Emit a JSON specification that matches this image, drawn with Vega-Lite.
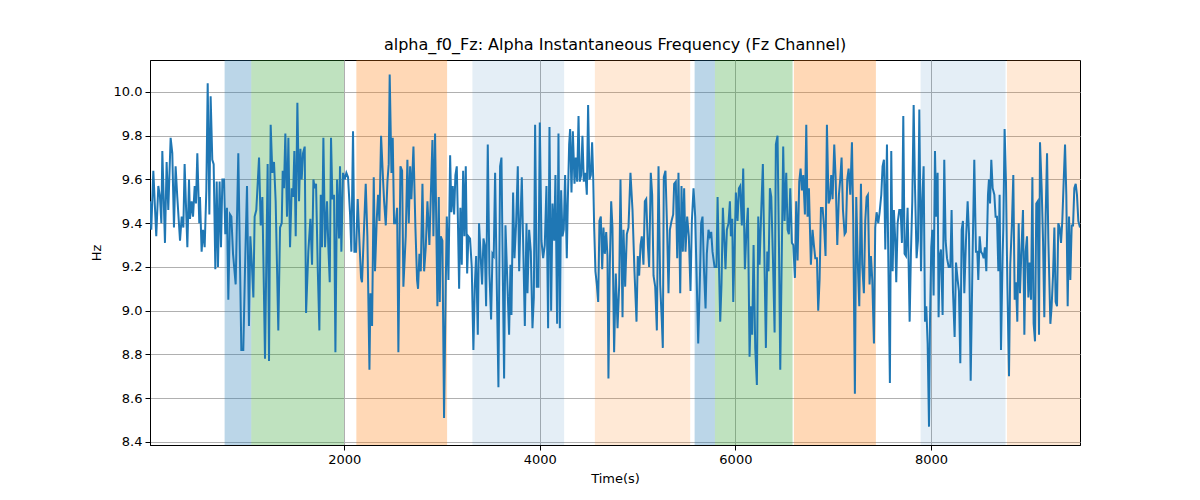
{
  "$schema": "https://vega.github.io/schema/vega-lite/v6.json",
  "description": "Alpha instantaneous frequency of the Fz channel over time, with shaded segments.",
  "width": 930,
  "height": 385,
  "autosize": {"type": "none"},
  "padding": {"left": 150, "top": 60, "right": 120, "bottom": 55},
  "title": {
    "text": "alpha_f0_Fz: Alpha Instantaneous Frequency (Fz Channel)",
    "fontSize": 16,
    "fontWeight": "normal",
    "font": "DejaVu Sans",
    "color": "black",
    "anchor": "middle",
    "offset": 7
  },
  "datasets": {
    "bands": [
      {"start": 777, "end": 1050, "kind": "a"},
      {"start": 1050, "end": 1998, "kind": "b"},
      {"start": 2124, "end": 3052, "kind": "c"},
      {"start": 3311, "end": 4249, "kind": "d"},
      {"start": 4563, "end": 5538, "kind": "e"},
      {"start": 5583, "end": 5791, "kind": "a"},
      {"start": 5791, "end": 6585, "kind": "b"},
      {"start": 6598, "end": 7437, "kind": "c"},
      {"start": 7894, "end": 8763, "kind": "d"},
      {"start": 8777, "end": 9524, "kind": "e"}
    ],
    "series": [
      {"t":14,"hz":9.50},{"t":27,"hz":9.37},{"t":48,"hz":9.64},{"t":78,"hz":9.34},{"t":99,"hz":9.57},{"t":116,"hz":9.52},{"t":130,"hz":9.40},{"t":140,"hz":9.73},{"t":167,"hz":9.31},{"t":184,"hz":9.68},{"t":201,"hz":9.46},{"t":225,"hz":9.79},{"t":242,"hz":9.72},{"t":259,"hz":9.38},{"t":276,"hz":9.66},{"t":293,"hz":9.52},{"t":321,"hz":9.32},{"t":338,"hz":9.43},{"t":355,"hz":9.38},{"t":368,"hz":9.67},{"t":396,"hz":9.29},{"t":413,"hz":9.60},{"t":423,"hz":9.42},{"t":440,"hz":9.50},{"t":454,"hz":9.43},{"t":471,"hz":9.57},{"t":484,"hz":9.49},{"t":498,"hz":9.72},{"t":518,"hz":9.40},{"t":525,"hz":9.52},{"t":542,"hz":9.27},{"t":556,"hz":9.37},{"t":573,"hz":9.29},{"t":590,"hz":9.55},{"t":604,"hz":10.04},{"t":621,"hz":9.44},{"t":634,"hz":9.98},{"t":651,"hz":9.69},{"t":665,"hz":9.67},{"t":682,"hz":9.19},{"t":696,"hz":9.59},{"t":709,"hz":9.20},{"t":726,"hz":9.59},{"t":740,"hz":9.29},{"t":754,"hz":9.60},{"t":771,"hz":9.60},{"t":784,"hz":9.35},{"t":801,"hz":9.47},{"t":815,"hz":9.05},{"t":832,"hz":9.44},{"t":846,"hz":9.43},{"t":863,"hz":9.26},{"t":890,"hz":9.12},{"t":917,"hz":9.72},{"t":948,"hz":8.82},
      {"t":968,"hz":8.82},{"t":986,"hz":9.20},{"t":1006,"hz":9.57},{"t":1026,"hz":8.93},{"t":1040,"hz":9.34},{"t":1057,"hz":9.20},{"t":1071,"hz":9.06},{"t":1084,"hz":9.43},{"t":1101,"hz":9.46},{"t":1129,"hz":9.70},{"t":1146,"hz":9.39},{"t":1163,"hz":9.52},{"t":1190,"hz":8.78},{"t":1217,"hz":9.67},{"t":1231,"hz":8.77},{"t":1248,"hz":9.85},{"t":1265,"hz":9.63},{"t":1282,"hz":9.68},{"t":1299,"hz":9.50},{"t":1326,"hz":8.91},{"t":1344,"hz":9.38},{"t":1361,"hz":9.40},{"t":1371,"hz":9.64},{"t":1384,"hz":9.56},{"t":1398,"hz":9.81},{"t":1415,"hz":9.43},{"t":1429,"hz":9.79},{"t":1446,"hz":9.29},{"t":1463,"hz":9.56},{"t":1477,"hz":9.52},{"t":1490,"hz":9.73},{"t":1504,"hz":9.34},{"t":1521,"hz":9.95},{"t":1538,"hz":9.50},{"t":1552,"hz":9.74},{"t":1565,"hz":9.60},{"t":1579,"hz":9.72},{"t":1596,"hz":9.75},{"t":1610,"hz":8.99},{"t":1633,"hz":9.27},{"t":1654,"hz":9.42},{"t":1671,"hz":9.21},{"t":1685,"hz":9.60},{"t":1698,"hz":9.56},{"t":1712,"hz":9.58},{"t":1729,"hz":9.20},{"t":1746,"hz":8.91},{"t":1760,"hz":9.53},{"t":1773,"hz":9.29},{"t":1787,"hz":9.79},{"t":1804,"hz":9.29},{"t":1824,"hz":9.50},{"t":1838,"hz":9.29},{"t":1852,"hz":9.13},{"t":1865,"hz":9.79},{"t":1879,"hz":9.51},{"t":1896,"hz":9.53},{"t":1910,"hz":8.81},{"t":1927,"hz":9.60},
      {"t":1940,"hz":9.43},{"t":1947,"hz":9.33},{"t":1957,"hz":9.66},{"t":1971,"hz":9.27},{"t":1988,"hz":9.63},{"t":2005,"hz":9.60},{"t":2022,"hz":9.63},{"t":2039,"hz":9.61},{"t":2060,"hz":9.44},{"t":2073,"hz":9.27},{"t":2090,"hz":9.82},{"t":2104,"hz":9.27},{"t":2121,"hz":9.27},{"t":2138,"hz":9.51},{"t":2159,"hz":9.28},{"t":2172,"hz":9.15},{"t":2182,"hz":9.13},{"t":2203,"hz":9.38},{"t":2220,"hz":9.58},{"t":2237,"hz":9.34},{"t":2258,"hz":8.73},{"t":2268,"hz":9.08},{"t":2285,"hz":8.93},{"t":2302,"hz":9.61},{"t":2315,"hz":9.18},{"t":2333,"hz":9.42},{"t":2346,"hz":9.53},{"t":2360,"hz":9.41},{"t":2377,"hz":9.80},{"t":2397,"hz":9.60},{"t":2408,"hz":9.50},{"t":2425,"hz":9.39},{"t":2442,"hz":9.59},{"t":2455,"hz":9.67},{"t":2465,"hz":10.08},{"t":2483,"hz":9.63},{"t":2496,"hz":9.79},{"t":2510,"hz":9.40},{"t":2527,"hz":9.40},{"t":2541,"hz":9.47},{"t":2554,"hz":8.81},{"t":2575,"hz":9.66},{"t":2592,"hz":9.64},{"t":2605,"hz":9.11},{"t":2629,"hz":9.34},{"t":2646,"hz":9.69},{"t":2660,"hz":9.40},{"t":2674,"hz":9.66},{"t":2687,"hz":9.51},{"t":2708,"hz":9.75},{"t":2728,"hz":9.38},{"t":2745,"hz":9.14},{"t":2755,"hz":9.10},{"t":2769,"hz":9.26},{"t":2783,"hz":9.18},{"t":2800,"hz":9.58},{"t":2817,"hz":9.18},{"t":2834,"hz":9.29},{"t":2851,"hz":9.50},{"t":2871,"hz":9.30},{"t":2902,"hz":9.78},
      {"t":2912,"hz":9.34},{"t":2929,"hz":9.81},{"t":2943,"hz":9.34},{"t":2953,"hz":9.02},{"t":2967,"hz":9.52},{"t":2977,"hz":9.04},{"t":2987,"hz":9.34},{"t":3004,"hz":9.32},{"t":3021,"hz":8.51},{"t":3038,"hz":9.11},{"t":3049,"hz":9.43},{"t":3066,"hz":9.14},{"t":3083,"hz":9.71},{"t":3096,"hz":9.45},{"t":3110,"hz":9.57},{"t":3124,"hz":9.44},{"t":3137,"hz":9.62},{"t":3151,"hz":9.66},{"t":3161,"hz":9.45},{"t":3175,"hz":9.10},{"t":3188,"hz":9.47},{"t":3202,"hz":9.21},{"t":3216,"hz":9.64},{"t":3229,"hz":9.34},{"t":3243,"hz":9.66},{"t":3257,"hz":9.17},{"t":3270,"hz":9.34},{"t":3287,"hz":9.33},{"t":3304,"hz":9.20},{"t":3321,"hz":8.82},{"t":3335,"hz":9.11},{"t":3349,"hz":9.25},{"t":3366,"hz":8.89},{"t":3379,"hz":9.40},{"t":3396,"hz":9.24},{"t":3410,"hz":9.12},{"t":3424,"hz":9.33},{"t":3437,"hz":9.30},{"t":3451,"hz":9.02},{"t":3468,"hz":9.76},{"t":3485,"hz":9.17},{"t":3502,"hz":8.96},{"t":3516,"hz":9.26},{"t":3529,"hz":9.25},{"t":3543,"hz":9.63},{"t":3560,"hz":9.12},{"t":3577,"hz":8.65},{"t":3594,"hz":9.66},{"t":3608,"hz":9.70},{"t":3621,"hz":9.20},{"t":3635,"hz":8.69},{"t":3649,"hz":9.39},{"t":3669,"hz":9.12},{"t":3686,"hz":8.89},{"t":3700,"hz":9.21},{"t":3710,"hz":8.98},{"t":3727,"hz":9.54},{"t":3741,"hz":9.24},{"t":3758,"hz":9.40},{"t":3775,"hz":9.66},{"t":3789,"hz":9.18},{"t":3802,"hz":9.41},{"t":3816,"hz":9.61},{"t":3833,"hz":9.24},{"t":3847,"hz":8.93},{"t":3864,"hz":9.40},
      {"t":3874,"hz":9.08},{"t":3891,"hz":9.37},{"t":3908,"hz":9.27},{"t":3925,"hz":8.92},{"t":3939,"hz":9.06},{"t":3952,"hz":9.85},{"t":3969,"hz":9.11},{"t":3986,"hz":9.11},{"t":4000,"hz":9.86},{"t":4017,"hz":9.32},{"t":4034,"hz":9.24},{"t":4051,"hz":9.30},{"t":4068,"hz":9.57},{"t":4085,"hz":8.92},{"t":4099,"hz":9.84},{"t":4116,"hz":9.00},{"t":4130,"hz":9.49},{"t":4147,"hz":9.32},{"t":4160,"hz":9.62},{"t":4177,"hz":8.94},{"t":4191,"hz":9.81},{"t":4205,"hz":8.92},{"t":4218,"hz":9.55},{"t":4232,"hz":9.34},{"t":4245,"hz":9.37},{"t":4259,"hz":9.62},{"t":4276,"hz":9.24},{"t":4286,"hz":9.49},{"t":4300,"hz":9.76},{"t":4310,"hz":9.83},{"t":4324,"hz":9.54},{"t":4338,"hz":9.82},{"t":4355,"hz":9.58},{"t":4368,"hz":9.70},{"t":4382,"hz":9.59},{"t":4396,"hz":9.89},{"t":4409,"hz":9.59},{"t":4423,"hz":9.62},{"t":4436,"hz":9.80},{"t":4450,"hz":9.59},{"t":4467,"hz":9.63},{"t":4481,"hz":9.53},{"t":4494,"hz":9.94},{"t":4508,"hz":9.60},{"t":4522,"hz":9.62},{"t":4535,"hz":9.77},{"t":4546,"hz":9.61},{"t":4556,"hz":9.38},{"t":4569,"hz":9.18},{"t":4583,"hz":9.12},{"t":4597,"hz":9.04},{"t":4610,"hz":9.41},{"t":4624,"hz":9.43},{"t":4638,"hz":9.19},{"t":4651,"hz":9.38},{"t":4665,"hz":9.26},{"t":4679,"hz":9.36},{"t":4692,"hz":9.25},{"t":4702,"hz":8.69},{"t":4716,"hz":9.21},{"t":4730,"hz":9.50},{"t":4743,"hz":9.38},{"t":4760,"hz":8.81},{"t":4777,"hz":9.17},{"t":4795,"hz":8.92},{"t":4812,"hz":9.12},{"t":4825,"hz":9.60},{"t":4846,"hz":8.97},
      {"t":4856,"hz":9.37},{"t":4873,"hz":9.11},{"t":4890,"hz":9.35},{"t":4907,"hz":9.38},{"t":4927,"hz":9.63},{"t":4948,"hz":9.46},{"t":4968,"hz":9.18},{"t":4989,"hz":8.95},{"t":5002,"hz":9.25},{"t":5016,"hz":9.16},{"t":5030,"hz":9.30},{"t":5043,"hz":9.34},{"t":5060,"hz":9.21},{"t":5074,"hz":9.50},{"t":5088,"hz":9.51},{"t":5105,"hz":9.30},{"t":5118,"hz":9.20},{"t":5135,"hz":9.63},{"t":5149,"hz":9.53},{"t":5163,"hz":9.16},{"t":5180,"hz":9.11},{"t":5197,"hz":8.91},{"t":5214,"hz":9.66},{"t":5231,"hz":9.12},{"t":5248,"hz":8.95},{"t":5258,"hz":8.83},{"t":5268,"hz":9.61},{"t":5285,"hz":9.64},{"t":5302,"hz":9.37},{"t":5316,"hz":9.08},{"t":5330,"hz":9.37},{"t":5347,"hz":9.41},{"t":5364,"hz":9.44},{"t":5374,"hz":9.58},{"t":5391,"hz":9.59},{"t":5405,"hz":9.24},{"t":5418,"hz":9.63},{"t":5436,"hz":9.08},{"t":5449,"hz":9.57},{"t":5463,"hz":9.27},{"t":5476,"hz":9.56},{"t":5490,"hz":9.27},{"t":5507,"hz":9.43},{"t":5524,"hz":9.34},{"t":5541,"hz":9.09},{"t":5555,"hz":9.41},{"t":5572,"hz":9.56},{"t":5589,"hz":9.43},{"t":5603,"hz":9.17},{"t":5620,"hz":8.85},{"t":5637,"hz":9.14},{"t":5650,"hz":9.40},{"t":5664,"hz":9.43},{"t":5678,"hz":9.20},{"t":5695,"hz":9.01},{"t":5708,"hz":9.26},{"t":5725,"hz":9.37},{"t":5739,"hz":9.34},{"t":5753,"hz":9.36},{"t":5766,"hz":9.27},{"t":5787,"hz":9.20},{"t":5807,"hz":9.20},
      {"t":5818,"hz":9.52},{"t":5831,"hz":9.23},{"t":5845,"hz":8.95},{"t":5858,"hz":9.12},{"t":5872,"hz":9.47},{"t":5886,"hz":9.33},{"t":5899,"hz":9.19},{"t":5913,"hz":9.37},{"t":5930,"hz":9.40},{"t":5944,"hz":9.50},{"t":5954,"hz":9.34},{"t":5968,"hz":9.42},{"t":5978,"hz":9.04},{"t":5991,"hz":9.27},{"t":6005,"hz":9.54},{"t":6022,"hz":9.41},{"t":6036,"hz":9.56},{"t":6049,"hz":9.57},{"t":6066,"hz":9.39},{"t":6080,"hz":9.65},{"t":6097,"hz":9.19},{"t":6114,"hz":9.37},{"t":6128,"hz":9.47},{"t":6145,"hz":8.79},{"t":6159,"hz":9.02},{"t":6172,"hz":8.89},{"t":6186,"hz":9.30},{"t":6203,"hz":8.83},{"t":6220,"hz":8.66},{"t":6234,"hz":9.43},{"t":6247,"hz":9.21},{"t":6264,"hz":9.45},{"t":6281,"hz":9.67},{"t":6295,"hz":9.29},{"t":6312,"hz":8.83},{"t":6326,"hz":9.27},{"t":6339,"hz":9.18},{"t":6353,"hz":9.56},{"t":6367,"hz":9.52},{"t":6384,"hz":9.24},{"t":6401,"hz":8.90},{"t":6414,"hz":9.76},{"t":6431,"hz":9.80},{"t":6445,"hz":9.32},{"t":6459,"hz":8.73},{"t":6472,"hz":9.17},{"t":6489,"hz":9.75},{"t":6503,"hz":9.41},{"t":6520,"hz":9.63},{"t":6534,"hz":9.37},{"t":6547,"hz":9.35},{"t":6561,"hz":9.56},{"t":6578,"hz":9.31},{"t":6592,"hz":9.30},{"t":6609,"hz":9.15},{"t":6622,"hz":9.50},{"t":6636,"hz":9.23},{"t":6653,"hz":9.59},{"t":6667,"hz":9.65},{"t":6680,"hz":9.55},{"t":6694,"hz":9.62},{"t":6711,"hz":9.44},{"t":6725,"hz":9.85},{"t":6738,"hz":9.43},{"t":6752,"hz":9.56},{"t":6772,"hz":9.21},{"t":6789,"hz":9.37},
      {"t":6803,"hz":9.30},{"t":6817,"hz":9.24},{"t":6834,"hz":9.24},{"t":6847,"hz":9.00},{"t":6861,"hz":9.14},{"t":6875,"hz":9.47},{"t":6892,"hz":9.47},{"t":6909,"hz":9.37},{"t":6922,"hz":9.25},{"t":6936,"hz":9.85},{"t":6953,"hz":9.49},{"t":6967,"hz":9.51},{"t":6980,"hz":9.62},{"t":6994,"hz":9.51},{"t":7011,"hz":9.76},{"t":7025,"hz":9.61},{"t":7042,"hz":9.30},{"t":7059,"hz":9.53},{"t":7072,"hz":9.60},{"t":7086,"hz":9.70},{"t":7100,"hz":9.46},{"t":7117,"hz":9.35},{"t":7130,"hz":9.36},{"t":7144,"hz":9.60},{"t":7158,"hz":9.65},{"t":7175,"hz":9.53},{"t":7192,"hz":9.77},{"t":7205,"hz":9.41},{"t":7222,"hz":8.62},{"t":7236,"hz":9.52},{"t":7253,"hz":9.20},{"t":7267,"hz":9.02},{"t":7284,"hz":9.58},{"t":7297,"hz":9.21},{"t":7314,"hz":9.08},{"t":7328,"hz":9.41},{"t":7342,"hz":9.52},{"t":7355,"hz":9.53},{"t":7372,"hz":9.12},{"t":7386,"hz":9.25},{"t":7400,"hz":9.14},{"t":7417,"hz":8.85},{"t":7430,"hz":9.38},{"t":7444,"hz":9.45},{"t":7461,"hz":9.40},{"t":7475,"hz":9.45},{"t":7492,"hz":9.53},{"t":7505,"hz":9.66},{"t":7519,"hz":9.69},{"t":7533,"hz":9.28},{"t":7550,"hz":9.76},{"t":7563,"hz":9.26},{"t":7580,"hz":8.67},{"t":7594,"hz":9.73},{"t":7608,"hz":9.18},{"t":7621,"hz":9.46},{"t":7635,"hz":9.32},{"t":7645,"hz":9.13},{"t":7659,"hz":9.40},{"t":7676,"hz":9.46},{"t":7690,"hz":9.46},{"t":7703,"hz":9.31},{"t":7717,"hz":9.89},{"t":7730,"hz":9.26},{"t":7744,"hz":9.25},{"t":7761,"hz":9.47},
      {"t":7771,"hz":9.23},{"t":7782,"hz":8.95},{"t":7795,"hz":9.26},{"t":7809,"hz":9.50},{"t":7823,"hz":9.94},{"t":7836,"hz":9.58},{"t":7853,"hz":9.24},{"t":7867,"hz":9.32},{"t":7881,"hz":9.92},{"t":7898,"hz":9.18},{"t":7911,"hz":9.50},{"t":7925,"hz":9.66},{"t":7939,"hz":8.95},{"t":7952,"hz":9.02},{"t":7966,"hz":8.85},{"t":7980,"hz":8.47},{"t":7990,"hz":8.95},{"t":8003,"hz":9.29},{"t":8014,"hz":9.37},{"t":8027,"hz":9.07},{"t":8041,"hz":9.73},{"t":8054,"hz":9.43},{"t":8068,"hz":9.63},{"t":8078,"hz":8.97},{"t":8089,"hz":9.25},{"t":8102,"hz":9.28},{"t":8119,"hz":8.98},{"t":8136,"hz":9.69},{"t":8150,"hz":9.32},{"t":8164,"hz":9.24},{"t":8181,"hz":9.20},{"t":8198,"hz":9.20},{"t":8211,"hz":9.46},{"t":8225,"hz":9.09},{"t":8242,"hz":8.88},{"t":8256,"hz":9.22},{"t":8273,"hz":9.14},{"t":8286,"hz":9.09},{"t":8300,"hz":8.76},{"t":8314,"hz":9.37},{"t":8327,"hz":9.41},{"t":8341,"hz":9.08},{"t":8358,"hz":9.32},{"t":8375,"hz":9.50},{"t":8389,"hz":9.35},{"t":8406,"hz":8.68},{"t":8426,"hz":9.26},{"t":8443,"hz":9.69},{"t":8460,"hz":9.27},{"t":8474,"hz":9.27},{"t":8484,"hz":9.14},{"t":8498,"hz":9.34},{"t":8511,"hz":9.27},{"t":8525,"hz":9.26},{"t":8539,"hz":9.24},{"t":8552,"hz":9.29},{"t":8566,"hz":9.18},{"t":8583,"hz":9.53},{"t":8593,"hz":9.60},{"t":8604,"hz":9.49},{"t":8617,"hz":9.69},{"t":8631,"hz":9.56},{"t":8648,"hz":9.53},{"t":8661,"hz":9.43},{"t":8675,"hz":9.43},{"t":8689,"hz":9.18},{"t":8702,"hz":9.53},{"t":8716,"hz":8.82},{"t":8733,"hz":9.26},
      {"t":8740,"hz":9.38},{"t":8753,"hz":9.83},{"t":8767,"hz":9.59},{"t":8781,"hz":9.12},{"t":8798,"hz":8.70},{"t":8811,"hz":9.21},{"t":8828,"hz":9.40},{"t":8842,"hz":9.62},{"t":8856,"hz":9.05},{"t":8869,"hz":9.13},{"t":8883,"hz":8.95},{"t":8897,"hz":9.40},{"t":8910,"hz":9.08},{"t":8927,"hz":9.30},{"t":8941,"hz":9.46},{"t":8955,"hz":8.89},{"t":8968,"hz":9.27},{"t":8982,"hz":9.34},{"t":8996,"hz":9.06},{"t":9009,"hz":9.22},{"t":9023,"hz":9.05},{"t":9037,"hz":9.61},{"t":9050,"hz":8.94},{"t":9064,"hz":8.86},{"t":9077,"hz":9.49},{"t":9091,"hz":9.50},{"t":9105,"hz":8.89},{"t":9115,"hz":9.77},{"t":9132,"hz":9.56},{"t":9146,"hz":9.32},{"t":9159,"hz":8.97},{"t":9173,"hz":9.44},{"t":9187,"hz":9.72},{"t":9200,"hz":9.33},{"t":9221,"hz":8.94},{"t":9234,"hz":9.02},{"t":9248,"hz":9.16},{"t":9262,"hz":9.38},{"t":9275,"hz":9.04},{"t":9289,"hz":9.02},{"t":9302,"hz":9.40},{"t":9316,"hz":9.38},{"t":9330,"hz":9.31},{"t":9343,"hz":9.41},{"t":9357,"hz":9.59},{"t":9371,"hz":9.76},{"t":9384,"hz":9.53},{"t":9398,"hz":9.02},{"t":9412,"hz":9.43},{"t":9425,"hz":9.14},{"t":9439,"hz":9.39},{"t":9453,"hz":9.39},{"t":9466,"hz":9.56},{"t":9480,"hz":9.58},{"t":9493,"hz":9.53},{"t":9507,"hz":9.41},{"t":9524,"hz":9.38}
    ]
  },
  "layer": [
    {
      "data": {"name": "bands"},
      "mark": {"type": "rect", "clip": true, "opacity": 1},
      "encoding": {
        "x": {"field": "start", "type": "quantitative", "scale": {"domain": [14, 9524], "nice": false, "zero": false}},
        "x2": {"field": "end"},
        "color": {
          "field": "kind",
          "type": "nominal",
          "scale": {
            "domain": ["a", "b", "c", "d", "e"],
            "range": ["rgba(31,119,180,0.3)", "rgba(44,160,44,0.3)", "rgba(255,127,14,0.3)", "rgba(31,119,180,0.12)", "rgba(255,127,14,0.17)"]
          },
          "legend": null
        }
      }
    },
    {
      "data": {"name": "series"},
      "mark": {"type": "line", "color": "#1f77b4", "strokeWidth": 2, "clip": true},
      "encoding": {
        "x": {
          "field": "t",
          "type": "quantitative",
          "title": "Time(s)",
          "scale": {"domain": [14, 9524], "nice": false, "zero": false},
          "axis": {"values": [2000, 4000, 6000, 8000], "format": "d", "titlePadding": 6}
        },
        "y": {
          "field": "hz",
          "type": "quantitative",
          "title": "Hz",
          "scale": {"domain": [8.386, 10.146], "nice": false, "zero": false},
          "axis": {"values": [8.4, 8.6, 8.8, 9.0, 9.2, 9.4, 9.6, 9.8, 10.0], "format": ".1f", "titlePadding": 10}
        }
      }
    }
  ],
  "config": {
    "font": "DejaVu Sans",
    "view": {"stroke": "black", "strokeWidth": 1},
    "axis": {
      "labelFontSize": 13,
      "titleFontSize": 13,
      "titleFontWeight": "normal",
      "labelColor": "black",
      "titleColor": "black",
      "domainColor": "black",
      "tickColor": "black",
      "tickSize": 5,
      "gridColor": "#b0b0b0",
      "gridWidth": 1,
      "gridOpacity": 1,
      "labelPadding": 3
    }
  }
}
